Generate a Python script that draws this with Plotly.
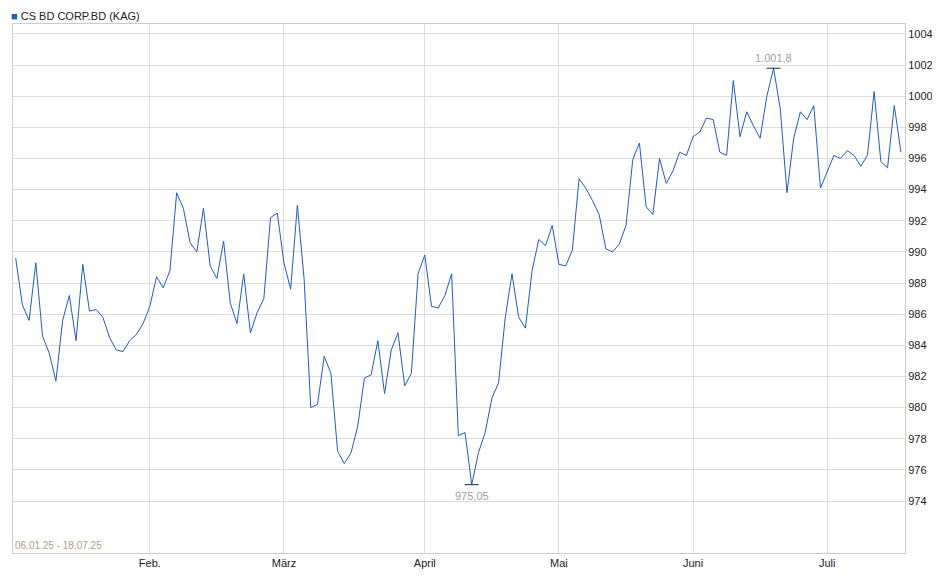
import plotly.graph_objects as go

# Werte je Handelstag (06.01.25 - 18.07.25)
values = [
    989.6, 986.6, 985.6, 989.3, 984.6, 983.5, 981.7, 985.6, 987.2, 984.3,
    989.2, 986.2, 986.3, 985.8, 984.5, 983.7, 983.6, 984.3, 984.7, 985.4,
    986.5, 988.4, 987.7, 988.8, 993.8, 992.8, 990.6, 990.0, 992.8, 989.1,
    988.3, 990.7, 986.7, 985.4, 988.6, 984.8, 986.1, 987.0, 992.2, 992.5,
    989.3, 987.6, 993.0, 988.3, 980.0, 980.2, 983.3, 982.2, 977.2, 976.4,
    977.1, 978.8, 981.9, 982.1, 984.3, 980.9, 983.7, 984.8, 981.4, 982.2,
    988.6, 989.8, 986.5, 986.4, 987.2, 988.6, 978.2, 978.4, 975.05, 977.1,
    978.4, 980.6, 981.6, 985.8, 988.6, 985.8, 985.1, 988.8, 990.8, 990.4,
    991.7, 989.2, 989.1, 990.1, 994.7, 994.1, 993.3, 992.4, 990.2, 990.0,
    990.5, 991.7, 995.9, 997.0, 992.9, 992.4, 996.0, 994.4, 995.2, 996.4,
    996.2, 997.4, 997.7, 998.6, 998.5, 996.4, 996.2, 1001.0, 997.4, 999.0,
    998.1, 997.3, 1000.0, 1001.8, 999.2, 993.8, 997.3, 999.0, 998.5, 999.4,
    994.1, 995.2, 996.2, 996.0, 996.5, 996.2, 995.5, 996.2, 1000.3, 995.8,
    995.4, 999.4, 996.4,
]
month_pos = [20, 40, 61, 81, 101, 121]
month_labels = ["Feb.", "März", "April", "Mai", "Juni", "Juli"]
y_ticks = list(range(974, 1005, 2))

x = list(range(len(values)))
i_min = values.index(min(values))
i_max = values.index(max(values))

fig = go.Figure()
fig.add_trace(go.Scatter(
    x=x, y=values, mode="lines", name="CS BD CORP.BD (KAG)",
    line=dict(color="#1f5cc4", width=1),
))
# Min/Max Markierungen
fig.add_trace(go.Scatter(
    x=[i_min, i_max], y=[min(values), max(values)], mode="markers",
    marker=dict(symbol="line-ew", size=10, line=dict(color="#222", width=1)),
    hoverinfo="skip",
))
fig.add_annotation(x=i_min, y=min(values), text="975,05", showarrow=False,
                   yshift=-11, font=dict(color="#a0a0a0", size=11))
fig.add_annotation(x=i_max, y=max(values), text="1.001,8", showarrow=False,
                   yshift=10, font=dict(color="#a0a0a0", size=11))
fig.add_annotation(xref="paper", yref="paper", x=0, y=0, xanchor="left",
                   yanchor="bottom", text="06.01.25 - 18.07.25",
                   showarrow=False, font=dict(color="#b0a080", size=10))
# Legende oben links
fig.add_annotation(xref="paper", yref="paper", x=-0.004, y=1.0, xanchor="left",
                   yanchor="bottom", showarrow=False,
                   text="<span style='color:#1f5cc4'>■</span> CS BD CORP.BD (KAG)",
                   font=dict(size=11, color="#222"))

fig.update_layout(
    width=940, height=579,
    margin=dict(l=5, r=43, t=16, b=34),
    plot_bgcolor="white", paper_bgcolor="white",
    font=dict(family="Liberation Sans, Arial", size=11, color="#222"),
    showlegend=False,
    xaxis=dict(range=[-0.4, 132.6], tickvals=month_pos, ticktext=month_labels,
               showgrid=True, gridcolor="#dddddd", zeroline=False,
               showline=True, linecolor="#cccccc", mirror=True, ticks=""),
    yaxis=dict(range=[970.66, 1004.64], tickvals=y_ticks, side="right",
               showgrid=True, gridcolor="#dddddd", zeroline=False,
               showline=True, linecolor="#cccccc", mirror=True, ticks=""),
)

fig.write_html("out.html")
